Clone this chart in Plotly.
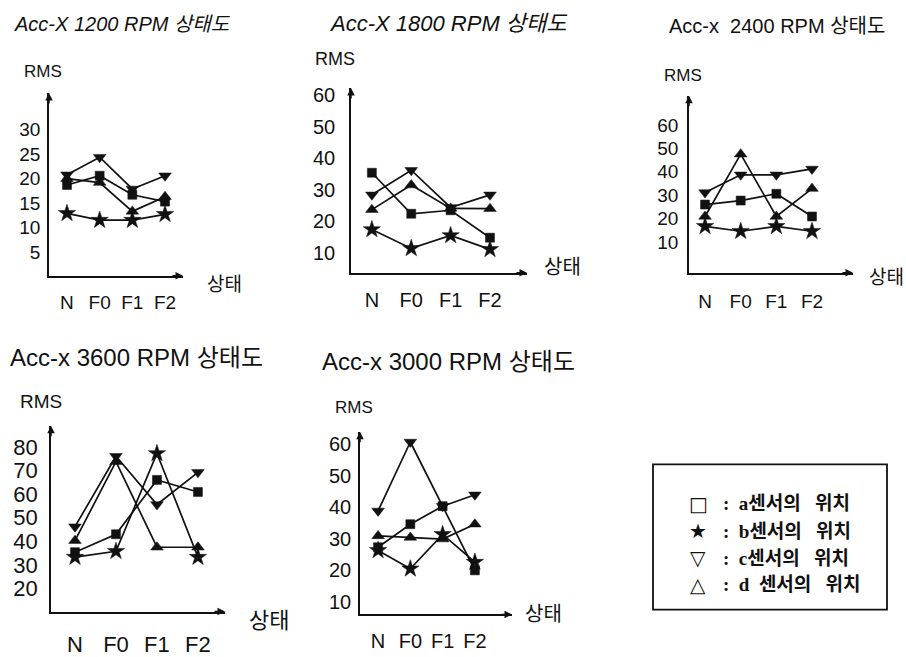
import plotly.graph_objects as go

W, H = 906, 657

states = ["N", "F0", "F1", "F2"]
x_pos = [0, 1, 2, 3]

series_names = ["a센서의 위치", "b센서의 위치", "c센서의 위치", "d 센서의 위치"]

rms_1200_a = [18.7, 20.6, 16.7, 15.3]
rms_1200_b = [12.9, 11.5, 11.5, 12.7]
rms_1200_c = [20.8, 24.4, 17.9, 20.6]
rms_1200_d = [20.0, 19.2, 13.3, 16.3]

rms_1800_a = [35.4, 22.4, 23.5, 14.8]
rms_1800_b = [17.4, 11.4, 15.5, 11.1]
rms_1800_c = [28.4, 36.2, 24.4, 28.4]
rms_1800_d = [23.7, 31.5, 24.1, 24.0]

rms_2400_a = [26.0, 27.7, 30.6, 20.9]
rms_2400_b = [16.7, 14.6, 16.7, 14.6]
rms_2400_c = [31.1, 38.7, 38.7, 41.2]
rms_2400_d = [20.9, 47.5, 20.9, 32.8]

rms_3600_a = [35.4, 43.0, 66.0, 60.9]
rms_3600_b = [33.3, 35.8, 77.2, 33.3]
rms_3600_c = [46.2, 76.0, 55.6, 69.2]
rms_3600_d = [40.3, 73.7, 37.5, 37.5]

rms_3000_a = [27.3, 34.6, 40.3, 20.0]
rms_3000_b = [26.3, 20.5, 31.4, 22.6]
rms_3000_c = [38.8, 60.6, 40.3, 43.9]
rms_3000_d = [30.9, 30.4, 29.9, 34.6]

ticks_1200 = [5, 10, 15, 20, 25, 30]
ticks_1800 = [10, 20, 30, 40, 50, 60]
ticks_2400 = [10, 20, 30, 40, 50, 60]
ticks_3600 = [20, 30, 40, 50, 60, 70, 80]
ticks_3000 = [10, 20, 30, 40, 50, 60]

FONT = "Liberation Sans, Noto Sans CJK KR, sans-serif"
BLACK = "#111111"

markers = [
    dict(symbol="square", size=9),
    dict(symbol="star", size=13),
    dict(symbol="triangle-down", size=11),
    dict(symbol="triangle-up", size=11),
]


def fx(px):
    return px / W


def fy(py):
    return 1 - py / H


panels = [
    dict(title="<i>Acc-X 1200 RPM 상태도</i>", tfs=20, tx=12, ty=20,
         box=(49, 90, 183, 275), xr=[-0.55, 3.55], yr=[0.14, 37.56],
         ticks=ticks_1200, fs=19, ystand=3, xstand=9,
         rms=(22, 68), rfs=17, st=(205, 284), sfs=19,
         data=[rms_1200_a, rms_1200_b, rms_1200_c, rms_1200_d]),
    dict(title="<i>Acc-X 1800 RPM 상태도</i>", tfs=22, tx=327, ty=20,
         box=(351, 85, 527, 272), xr=[-0.53, 3.94], yr=[3.7, 62.3],
         ticks=ticks_1800, fs=20, ystand=10, xstand=9,
         rms=(313, 56), rfs=18, st=(542, 266), sfs=20,
         data=[rms_1800_a, rms_1800_b, rms_1800_c, rms_1800_d]),
    dict(title="Acc-x  2400 RPM 상태도", tfs=20, tx=667, ty=22,
         box=(689, 93, 853, 272), xr=[-0.45, 4.15], yr=[-3.1, 72.4],
         ticks=ticks_2400, fs=19, ystand=5, xstand=11,
         rms=(662, 72), rfs=17, st=(867, 277), sfs=19,
         data=[rms_2400_a, rms_2400_b, rms_2400_c, rms_2400_d]),
    dict(title="Acc-x 3600 RPM 상태도", tfs=24, tx=8, ty=358,
         box=(51, 427, 225, 615), xr=[-0.585, 3.66], yr=[10.3, 88.9],
         ticks=ticks_3600, fs=22, ystand=7, xstand=12,
         rms=(18, 402), rfs=19, st=(247, 624), sfs=22,
         data=[rms_3600_a, rms_3600_b, rms_3600_c, rms_3600_d]),
    dict(title="Acc-x 3000 RPM 상태도", tfs=24, tx=320, ty=362,
         box=(360, 433, 512, 618), xr=[-0.56, 4.15], yr=[6.04, 63.85],
         ticks=ticks_3000, fs=20, ystand=3, xstand=8,
         rms=(333, 408), rfs=17, st=(523, 618), sfs=20,
         data=[rms_3000_a, rms_3000_b, rms_3000_c, rms_3000_d]),
]

fig = go.Figure()
annotations = []
layout_axes = {}

for i, p in enumerate(panels):
    n = i + 1
    xa = "x" if n == 1 else f"x{n}"
    ya = "y" if n == 1 else f"y{n}"
    l, t, r, b = p["box"]
    for k, vals in enumerate(p["data"]):
        fig.add_trace(go.Scatter(
            x=x_pos, y=vals, mode="lines+markers", name=series_names[k],
            xaxis=xa, yaxis=ya, showlegend=False,
            line=dict(color=BLACK, width=1.7),
            marker=dict(color=BLACK, line=dict(color=BLACK, width=0.5), **markers[k]),
            cliponaxis=False,
        ))
    xkey = "xaxis" if n == 1 else f"xaxis{n}"
    ykey = "yaxis" if n == 1 else f"yaxis{n}"
    layout_axes[xkey] = dict(
        domain=[fx(l), fx(r)], anchor=ya, range=p["xr"],
        tickvals=x_pos, ticktext=states, showgrid=False, zeroline=False,
        showline=True, linecolor=BLACK, linewidth=1.5, ticks="",
        ticklabelstandoff=p["xstand"],
        tickfont=dict(family=FONT, size=p["fs"], color=BLACK),
    )
    layout_axes[ykey] = dict(
        domain=[fy(b), fy(t)], anchor=xa, range=p["yr"],
        tickvals=p["ticks"], showgrid=False, zeroline=False,
        showline=True, linecolor=BLACK, linewidth=1.5, ticks="",
        ticklabelstandoff=p["ystand"],
        tickfont=dict(family=FONT, size=p["fs"], color=BLACK),
    )
    # arrowheads
    annotations.append(dict(
        xref=f"{xa} domain", yref=f"{ya} domain", x=1, y=0, ax=-12, ay=0,
        showarrow=True, arrowhead=2, arrowsize=1, arrowwidth=1.5,
        arrowcolor=BLACK, text=""))
    annotations.append(dict(
        xref=f"{xa} domain", yref=f"{ya} domain", x=0, y=1, ax=0, ay=12,
        showarrow=True, arrowhead=2, arrowsize=1, arrowwidth=1.5,
        arrowcolor=BLACK, text=""))
    # title
    annotations.append(dict(
        xref="paper", yref="paper", x=fx(p["tx"]), y=fy(p["ty"]),
        xanchor="left", yanchor="middle", showarrow=False, text=p["title"],
        font=dict(family=FONT, size=p["tfs"], color=BLACK)))
    # RMS label
    annotations.append(dict(
        xref="paper", yref="paper", x=fx(p["rms"][0]), y=fy(p["rms"][1]),
        xanchor="left", yanchor="middle", showarrow=False, text="RMS",
        font=dict(family=FONT, size=p["rfs"], color=BLACK)))
    # 상태 label
    annotations.append(dict(
        xref="paper", yref="paper", x=fx(p["st"][0]), y=fy(p["st"][1]),
        xanchor="left", yanchor="middle", showarrow=False, text="상태",
        font=dict(family=FONT, size=p["sfs"], color=BLACK)))

# custom legend box
legend_symbols = ["□", "★", "▽", "△"]
legend_rows_y = [506, 534, 561, 588]
LFONT = "Liberation Serif, Noto Sans CJK KR, serif"
for sym, name, yy in zip(legend_symbols, series_names, legend_rows_y):
    annotations.append(dict(
        xref="paper", yref="paper", x=fx(698), y=fy(yy), xanchor="center",
        yanchor="middle", showarrow=False, text=sym,
        font=dict(family="DejaVu Sans", size=20, color=BLACK)))
    annotations.append(dict(
        xref="paper", yref="paper", x=fx(721), y=fy(yy), xanchor="left",
        yanchor="middle", showarrow=False,
        text="<b>:  " + name.replace(" ", "  ").replace("의  ", "의   ") + "</b>",
        font=dict(family=LFONT, size=19, color=BLACK)))

shapes = [dict(type="rect", xref="paper", yref="paper",
               x0=fx(653), x1=fx(887), y0=fy(613), y1=fy(466),
               line=dict(color=BLACK, width=1.8))]

fig.update_layout(
    width=W, height=H, margin=dict(l=0, r=0, t=0, b=0),
    paper_bgcolor="white", plot_bgcolor="white",
    annotations=annotations, shapes=shapes, showlegend=False,
    **layout_axes,
)

fig.write_html(
    "out.html",
    config={"displayModeBar": False},
    post_script="document.body.style.margin='0';document.body.style.overflow='hidden';",
)
